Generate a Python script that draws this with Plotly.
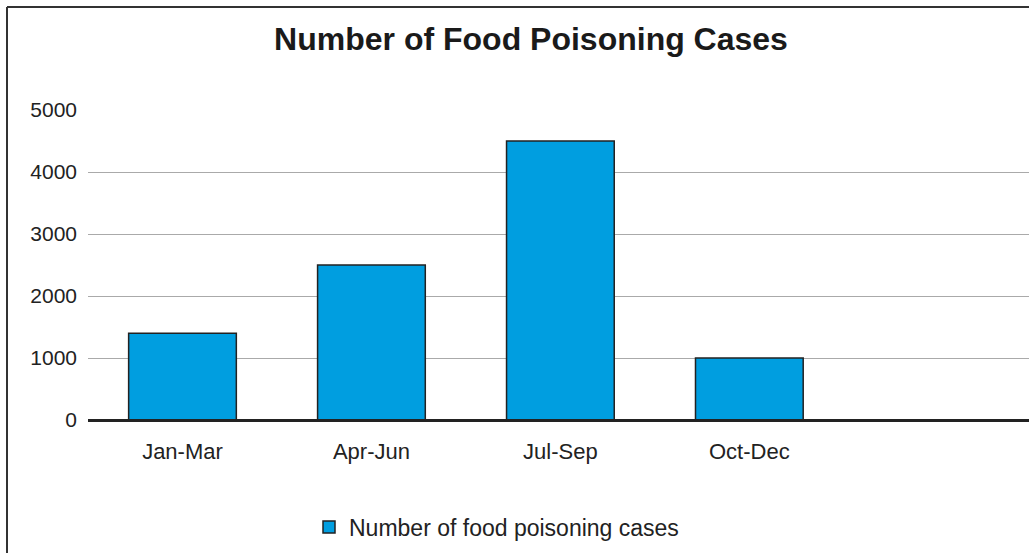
import plotly.graph_objects as go

categories = ["Jan-Mar", "Apr-Jun", "Jul-Sep", "Oct-Dec"]
cases = [1400, 2500, 4500, 1000]
series_name = "Number of food poisoning cases"
title_text = "Number of Food Poisoning Cases"
y_ticks = [0, 1000, 2000, 3000, 4000, 5000]

fig = go.Figure()
fig.add_trace(go.Bar(
    x=categories, y=cases, name=series_name,
    marker=dict(color="#009ee0", line=dict(color="#222222", width=1.5)),
    width=0.57, showlegend=True,
))

font_family = "Liberation Sans, Arial, sans-serif"
fig.update_layout(
    width=1029, height=553,
    margin=dict(l=88, r=0, t=110, b=133),
    paper_bgcolor="white", plot_bgcolor="white",
    font=dict(family=font_family, color="#222222"),
    title=dict(text="<b>" + title_text + "</b>", x=531/1029, xanchor="center",
               y=1-39/553, yanchor="middle", yref="container",
               font=dict(size=32, color="#1a1a1a", family=font_family)),
    showlegend=True,
    legend=dict(orientation="h", x=309/1029, xanchor="left", y=1-527/553,
                yanchor="middle", yref="container", xref="container",
                font=dict(size=23, color="#222222"), bgcolor="rgba(0,0,0,0)",
                itemwidth=30),
    xaxis=dict(range=[-0.5, 4.48], showgrid=False, showline=True,
               linecolor="#222222", linewidth=2, ticks="", tickfont=dict(size=22),
               ticklabelstandoff=11, fixedrange=True),
    yaxis=dict(range=[0, 5000], tickvals=y_ticks, showgrid=True,
               gridcolor="#aaaaaa", gridwidth=1, zeroline=False, showline=False,
               ticks="", tickfont=dict(size=21), ticklabelstandoff=10),
    bargap=0.43,
)
fig.add_shape(type="line", xref="paper", yref="paper", x0=0, x1=1, y0=0, y1=0,
              line=dict(color="#222222", width=2))
fig.add_shape(type="line", xref="paper", yref="paper",
              x0=-81/941, x1=1.1, y0=1+103/310, y1=1+103/310,
              line=dict(color="#333333", width=2))
fig.add_shape(type="line", xref="paper", yref="paper",
              x0=-81/941, x1=-81/941, y0=-0.6, y1=1+103/310,
              line=dict(color="#333333", width=2))
fig.write_html("out.html")
